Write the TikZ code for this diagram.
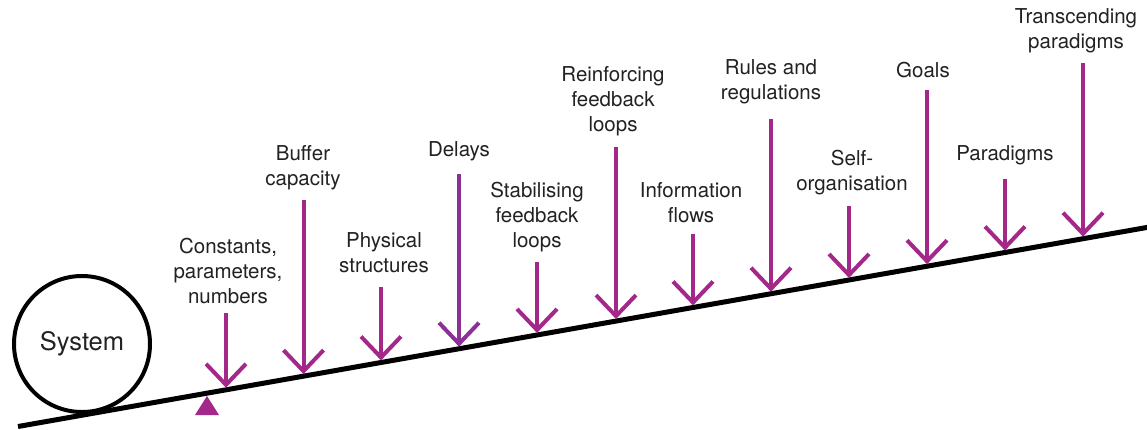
\documentclass[tikz,border=0pt]{standalone}
\usepackage{fontspec}
\setmainfont{TeX Gyre Heros}
\usetikzlibrary{calc}
\definecolor{lev}{RGB}{164,39,138}
\definecolor{levd}{RGB}{138,48,150}
\definecolor{txt}{RGB}{34,34,34}
\begin{document}
\begin{tikzpicture}[x=1pt,y=-1pt,
  lbl/.style={align=center,text=txt,inner sep=0pt,font=\fontsize{20.5}{25}\selectfont},
  lever/.style={line width=4pt,draw=lev},
  beam/.style={line width=5pt,draw=black}]
\useasboundingbox (0,0) rectangle (1147,429);
\fill[white] (0,0) rectangle (1147,429);
% beam
\coordinate (bL) at (18,426.5);
\coordinate (bR) at (1150,226.9);
\draw[beam] (bL) -- (bR);
% system circle
\node[circle,draw=black,line width=4pt,minimum size=136pt,inner sep=0pt,lbl,font=\fontsize{25.5}{30}\selectfont] (sys) at (82,344) {System};
% fulcrum
\fill[lev] (195,415) -- (219,415) -- (207,396) -- cycle;
% labels
\node[lbl] (l1) at (228,271) {Constants,\\parameters,\\numbers};
\node[lbl] (l2) at (303,167.5) {Buffer\\capacity};
\node[lbl] (l3) at (384,252.5) {Physical\\structures};
\node[lbl] (l4) at (459,151) {Delays};
\node[lbl] (l5) at (537,217) {Stabilising\\feedback\\loops};
\node[lbl] (l6) at (613,101) {Reinforcing\\feedback\\loops};
\node[lbl] (l7) at (691,202.5) {Information\\flows};
\node[lbl] (l8) at (771,81.5) {Rules and\\regulations};
\node[lbl] (l9) at (852,172.5) {Self-\\organisation};
\node[lbl] (l10) at (923,70) {Goals};
\node[lbl] (l11) at (1005,155) {Paradigms};
\node[lbl] (l12) at (1076,30.5) {Transcending\\paradigms};
% arrows: x, top
\foreach \i/\x/\t/\c in {1/226/313/lev,2/303.5/200/lev,3/381/287/lev,4/459/174/levd,5/537/262/lev,6/616/147/lev,7/693/234/lev,8/771/119/lev,9/849/206/lev,10/927/90/lev,11/1005/179/lev,12/1083/63/lev}{
  \pgfmathsetmacro{\tip}{426.5-0.1763*(\x-18)-5}
  \coordinate (t\i) at (\x,\t);
  \coordinate (p\i) at (\x,\tip);
  \draw[lever,draw=\c] (t\i) -- (p\i);
  \draw[lever,draw=\c] ($(p\i)+(-20,-21)$) -- (p\i) -- ($(p\i)+(20,-21)$);
}
\end{tikzpicture}
\end{document}
